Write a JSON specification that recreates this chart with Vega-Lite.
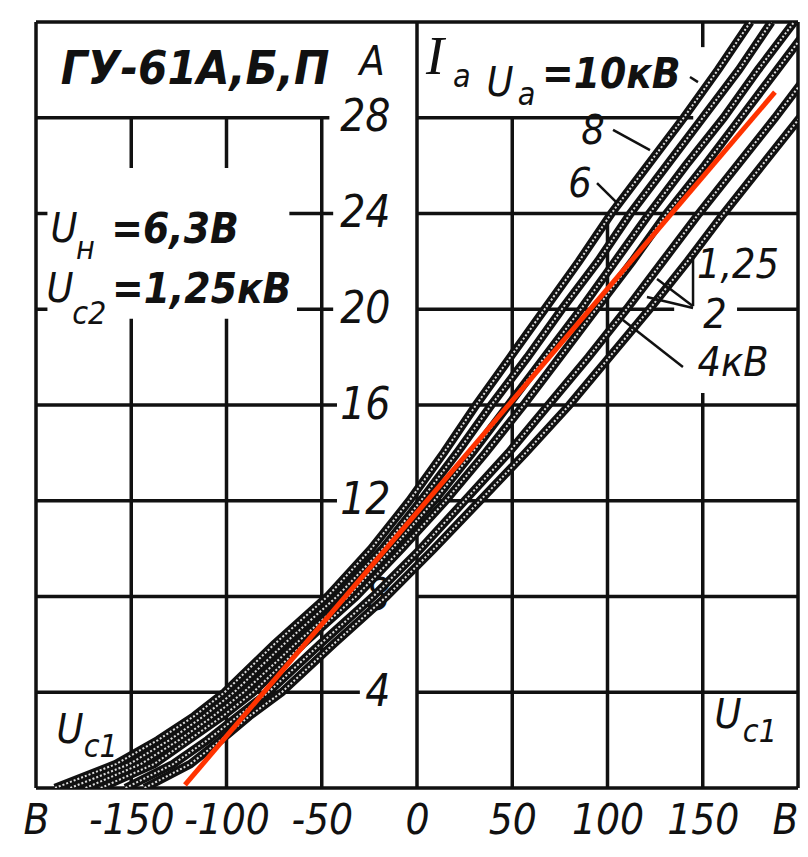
{
"$schema":"https://vega.github.io/schema/vega-lite/v6.json",
"width":762,"height":766,
"autosize":{"type":"none"},
"padding":{"left":36,"top":22,"right":10,"bottom":69},
"background":"white",
"config":{"view":{"stroke":null}},
"datasets":{
"curves":[
{"ua":"10","i":0,"v":-190},{"ua":"10","i":1,"v":-158},{"ua":"10","i":2,"v":-136},{"ua":"10","i":3,"v":-117},{"ua":"10","i":4,"v":-101},{"ua":"10","i":6,"v":-75},{"ua":"10","i":8,"v":-47},{"ua":"10","i":10,"v":-24},{"ua":"10","i":12,"v":-4},{"ua":"10","i":14,"v":14},{"ua":"10","i":16,"v":31},{"ua":"10","i":18,"v":49},{"ua":"10","i":20,"v":67},{"ua":"10","i":22,"v":85},{"ua":"10","i":24,"v":102},{"ua":"10","i":26,"v":121},{"ua":"10","i":28,"v":140},{"ua":"10","i":30,"v":158},{"ua":"10","i":32,"v":175},
{"ua":"8","i":0,"v":-182},{"ua":"8","i":1,"v":-151},{"ua":"8","i":2,"v":-130},{"ua":"8","i":3,"v":-112},{"ua":"8","i":4,"v":-96},{"ua":"8","i":6,"v":-70},{"ua":"8","i":8,"v":-42},{"ua":"8","i":10,"v":-18},{"ua":"8","i":12,"v":2},{"ua":"8","i":14,"v":21},{"ua":"8","i":16,"v":39},{"ua":"8","i":18,"v":58},{"ua":"8","i":20,"v":76},{"ua":"8","i":22,"v":95},{"ua":"8","i":24,"v":112},{"ua":"8","i":26,"v":131},{"ua":"8","i":28,"v":150},{"ua":"8","i":30,"v":169},{"ua":"8","i":32,"v":186},
{"ua":"6","i":0,"v":-174},{"ua":"6","i":1,"v":-145},{"ua":"6","i":2,"v":-125},{"ua":"6","i":3,"v":-107},{"ua":"6","i":4,"v":-91},{"ua":"6","i":6,"v":-64},{"ua":"6","i":8,"v":-36},{"ua":"6","i":10,"v":-13},{"ua":"6","i":12,"v":9},{"ua":"6","i":14,"v":29},{"ua":"6","i":16,"v":48},{"ua":"6","i":18,"v":67},{"ua":"6","i":20,"v":86},{"ua":"6","i":22,"v":104},{"ua":"6","i":24,"v":122},{"ua":"6","i":26,"v":141},{"ua":"6","i":28,"v":161},{"ua":"6","i":30,"v":179},{"ua":"6","i":32,"v":198},
{"ua":"4","i":0,"v":-166},{"ua":"4","i":1,"v":-138},{"ua":"4","i":2,"v":-120},{"ua":"4","i":3,"v":-102},{"ua":"4","i":4,"v":-86},{"ua":"4","i":6,"v":-60},{"ua":"4","i":8,"v":-32},{"ua":"4","i":10,"v":-8},{"ua":"4","i":12,"v":15},{"ua":"4","i":14,"v":36},{"ua":"4","i":16,"v":56},{"ua":"4","i":18,"v":75},{"ua":"4","i":20,"v":94},{"ua":"4","i":22,"v":113},{"ua":"4","i":24,"v":131},{"ua":"4","i":26,"v":151},{"ua":"4","i":28,"v":170},{"ua":"4","i":30,"v":189},{"ua":"4","i":32,"v":208},
{"ua":"2","i":0,"v":-153},{"ua":"2","i":1,"v":-128},{"ua":"2","i":2,"v":-110},{"ua":"2","i":3,"v":-94},{"ua":"2","i":4,"v":-78},{"ua":"2","i":6,"v":-51},{"ua":"2","i":8,"v":-23},{"ua":"2","i":10,"v":2},{"ua":"2","i":12,"v":25},{"ua":"2","i":14,"v":48},{"ua":"2","i":16,"v":69},{"ua":"2","i":18,"v":90},{"ua":"2","i":20,"v":110},{"ua":"2","i":22,"v":129},{"ua":"2","i":24,"v":148},{"ua":"2","i":26,"v":168},{"ua":"2","i":28,"v":188},{"ua":"2","i":30,"v":207},
{"ua":"1.25","i":0,"v":-143},{"ua":"1.25","i":1,"v":-119},{"ua":"1.25","i":2,"v":-103},{"ua":"1.25","i":3,"v":-88},{"ua":"1.25","i":4,"v":-71},{"ua":"1.25","i":6,"v":-44},{"ua":"1.25","i":8,"v":-16},{"ua":"1.25","i":10,"v":9},{"ua":"1.25","i":12,"v":33},{"ua":"1.25","i":14,"v":57},{"ua":"1.25","i":16,"v":80},{"ua":"1.25","i":18,"v":101},{"ua":"1.25","i":20,"v":122},{"ua":"1.25","i":22,"v":142},{"ua":"1.25","i":24,"v":161},{"ua":"1.25","i":26,"v":181},{"ua":"1.25","i":28,"v":201},{"ua":"1.25","i":30,"v":221}
],
"vlines":[
{"v":-200,"i":0,"i2":32},{"v":200,"i":0,"i2":32},{"v":0,"i":0,"i2":32},
{"v":-150,"i":0,"i2":19.6},{"v":-150,"i":25.9,"i2":28},
{"v":-100,"i":0,"i2":19.6},{"v":-100,"i":25.9,"i2":28},
{"v":-50,"i":0,"i2":28},{"v":50,"i":0,"i2":28},{"v":100,"i":0,"i2":24},
{"v":150,"i":0,"i2":16.5},{"v":150,"i":30.95,"i2":32}
],
"hlines":[
{"i":0,"v":-200,"v2":200},{"i":32,"v":-200,"v2":200},
{"i":28,"v":-200,"v2":-46},{"i":28,"v":0,"v2":145},
{"i":24,"v":-200,"v2":-194},{"i":24,"v":-67,"v2":-44},{"i":24,"v":0,"v2":200},
{"i":20,"v":-200,"v2":-194},{"i":20,"v":-63,"v2":-44},{"i":20,"v":0,"v2":135},{"i":20,"v":168,"v2":200},
{"i":16,"v":-200,"v2":-42},{"i":16,"v":0,"v2":200},
{"i":12,"v":-200,"v2":-42},{"i":12,"v":0,"v2":200},
{"i":8,"v":-200,"v2":-30},{"i":8,"v":0,"v2":200},
{"i":4,"v":-200,"v2":-30},{"i":4,"v":0,"v2":200}
],
"leaders":[
{"v":102.9,"i":27.49,"v2":122.3,"i2":26.65},
{"v":94.5,"i":25.27,"v2":105,"i2":24.44},
{"v":143.3,"i":29.7,"v2":147.5,"i2":29.49},
{"v":144.9,"i":22.26,"v2":144.9,"i2":20.13},
{"v":144.9,"i":20.13,"v2":126,"i2":21.26},
{"v":144.9,"i":20.05,"v2":120.7,"i2":20.51},
{"v":139.6,"i":17.59,"v2":108.1,"i2":19.55}
],
"red":[{"v":-121.8,"i":0.13,"v2":187.9,"i2":29.07}],
"texts":[
{"role":"title","t":"ГУ-61А,Б,П","v":-116.5,"i":30.0},
{"role":"eq","t":"=10кВ","v":102,"i":29.8},
{"role":"eq","t":"=6,3В","v":-127,"i":23.3},
{"role":"eq","t":"=1,25кВ","v":-113,"i":20.8},
{"role":"label","t":"А","v":-23.6,"i":30.3},
{"role":"label","t":"U","v":43.6,"i":29.4},
{"role":"label","t":"8","v":92.4,"i":27.4},
{"role":"label","t":"6","v":85.6,"i":25.2},
{"role":"label","t":"1,25","v":168.5,"i":21.8},
{"role":"label","t":"2","v":156.4,"i":19.7},
{"role":"label","t":"4кВ","v":165.9,"i":17.7},
{"role":"label","t":"U","v":-185.3,"i":23.3},
{"role":"label","t":"U","v":-187.4,"i":20.8},
{"role":"label","t":"U","v":-182.2,"i":2.4},
{"role":"label","t":"U","v":163.3,"i":3.0},
{"role":"sub","t":"а","v":23.5,"i":29.7},
{"role":"sub","t":"а","v":57.5,"i":28.95},
{"role":"sub","t":"н","v":-174,"i":22.5},
{"role":"sub","t":"с2","v":-172,"i":19.8},
{"role":"sub","t":"с1","v":-166,"i":1.7},
{"role":"sub","t":"с1","v":180,"i":2.35},
{"role":"serif","t":"I","v":9.5,"i":30.5}
]
},
"encoding":{
 "x":{"field":"v","type":"quantitative","scale":{"domain":[-200,200],"nice":false,"zero":false},
  "axis":{"title":null,"values":[-200,-150,-100,-50,0,50,100,150,200],"labelExpr":"datum.value==-200||datum.value==200?'В':''+datum.value","labelAlign":{"condition":{"test":"datum.value==200","value":"right"},"value":"center"},"domain":false,"ticks":false,"grid":false,"labelPadding":12,"labelFont":"Liberation Sans Narrow, DejaVu Sans Condensed, Liberation Sans","labelFontStyle":"italic","labelFontSize":42,"labelColor":"#111","labelFlush":false,"labelOverlap":false,"labelBound":false}},
 "y":{"field":"i","type":"quantitative","scale":{"domain":[0,32],"nice":false,"zero":false},
  "axis":{"title":null,"orient":"left","offset":-354,"values":[4,8,12,16,20,24,28],"domain":false,"ticks":false,"grid":false,"labelPadding":0,"labelAlign":"right","labelBaseline":"middle","labelFont":"Liberation Sans Narrow, DejaVu Sans Condensed, Liberation Sans","labelFontStyle":"italic","labelFontSize":44,"labelColor":"#111","labelOverlap":false,"labelBound":false}}
},
"layer":[
{"data":{"name":"vlines"},
 "mark":{"type":"rule","color":"#111","strokeWidth":3.5},
 "encoding":{"y2":{"field":"i2"}}},
{"data":{"name":"hlines"},
 "mark":{"type":"rule","color":"#111","strokeWidth":3.5},
 "encoding":{"x2":{"field":"v2"}}},
{"data":{"name":"curves"},
 "mark":{"type":"line","color":"#111","strokeWidth":8.5,"clip":true},
 "encoding":{"detail":{"field":"ua"},"order":{"field":"i","type":"quantitative"}}},
{"data":{"name":"curves"},
 "mark":{"type":"line","color":"white","strokeWidth":2,"strokeDash":[2,2],"clip":true,"opacity":0.85},
 "encoding":{"detail":{"field":"ua"},"order":{"field":"i","type":"quantitative"}}},
{"data":{"name":"red"},
 "mark":{"type":"rule","color":"#ff3300","strokeWidth":5},
 "encoding":{"x2":{"field":"v2"},"y2":{"field":"i2"}}},
{"data":{"name":"leaders"},
 "mark":{"type":"rule","color":"#111","strokeWidth":2.5},
 "encoding":{"x2":{"field":"v2"},"y2":{"field":"i2"}}},
{"data":{"name":"texts"},
 "transform":[{"filter":"datum.role=='title'"}],
 "mark":{"type":"text","font":"Liberation Sans Narrow, DejaVu Sans Condensed, Liberation Sans","fontStyle":"italic","fontWeight":"bold","fontSize":47,"color":"#111","align":"center","baseline":"middle"},
 "encoding":{"text":{"field":"t"}}},
{"data":{"name":"texts"},
 "transform":[{"filter":"datum.role=='eq'"}],
 "mark":{"type":"text","font":"Liberation Sans Narrow, DejaVu Sans Condensed, Liberation Sans","fontStyle":"italic","fontWeight":"bold","fontSize":42,"color":"#111","align":"center","baseline":"middle"},
 "encoding":{"text":{"field":"t"}}},
{"data":{"name":"texts"},
 "transform":[{"filter":"datum.role=='label'"}],
 "mark":{"type":"text","font":"Liberation Sans Narrow, DejaVu Sans Condensed, Liberation Sans","fontStyle":"italic","fontSize":41,"color":"#111","align":"center","baseline":"middle"},
 "encoding":{"text":{"field":"t"}}},
{"data":{"name":"texts"},
 "transform":[{"filter":"datum.role=='sub'"}],
 "mark":{"type":"text","font":"Liberation Sans Narrow, DejaVu Sans Condensed, Liberation Sans","fontStyle":"italic","fontSize":32,"color":"#111","align":"center","baseline":"middle"},
 "encoding":{"text":{"field":"t"}}},
{"data":{"name":"texts"},
 "transform":[{"filter":"datum.role=='serif'"}],
 "mark":{"type":"text","font":"Liberation Serif","fontStyle":"italic","fontSize":54,"color":"#111","align":"center","baseline":"middle"},
 "encoding":{"text":{"field":"t"}}}
]
}
